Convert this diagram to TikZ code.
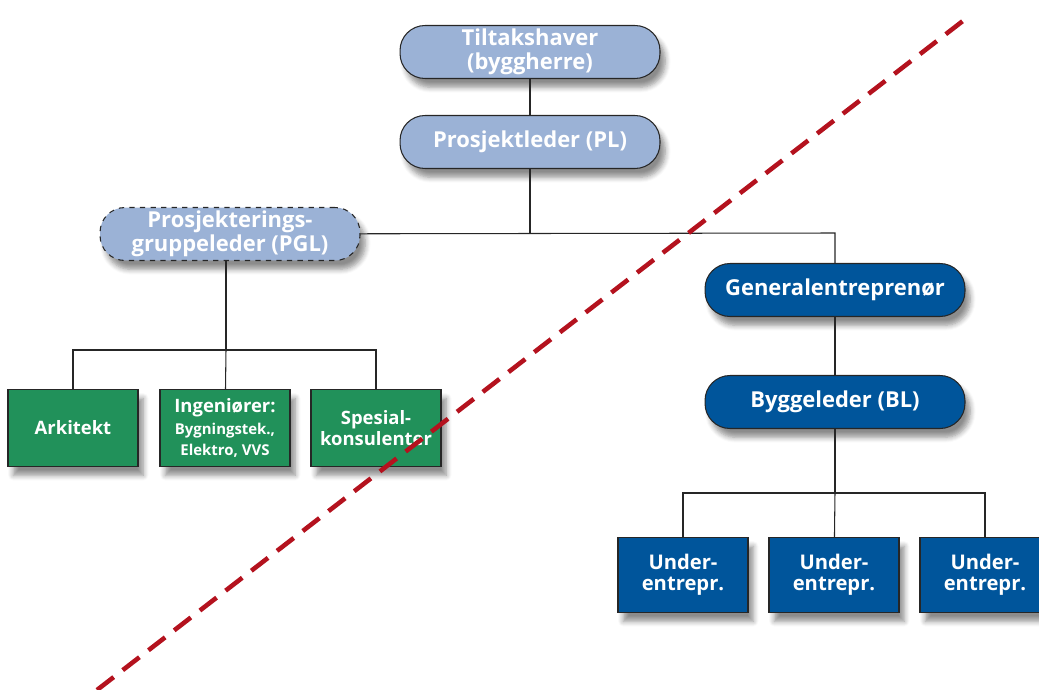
\documentclass[tikz,border=0pt]{standalone}
\usepackage{fontspec}
\setmainfont{Open Sans}
\usetikzlibrary{shadows.blur}

\definecolor{lysblaa}{RGB}{155,178,214}
\definecolor{moerkblaa}{RGB}{0,85,155}
\definecolor{groenn}{RGB}{33,145,90}
\definecolor{roed}{RGB}{180,18,30}

\tikzset{
  boks/.style={draw=black!85,line width=0.6pt,text=white,align=center,
    font=\bfseries,inner sep=1pt,
    blur shadow={shadow xshift=3pt,shadow yshift=-5pt,shadow blur steps=6,
      shadow blur radius=3pt,shadow opacity=45}},
  leder/.style={boks,rounded corners=0.5cm,minimum width=5.2cm,minimum height=1.06cm,
    font=\bfseries\fontsize{12.5}{13.5}\selectfont},
  fag/.style={boks,fill=groenn,minimum width=2.6cm,minimum height=1.54cm,
    font=\bfseries\fontsize{10.5}{11.5}\selectfont},
  under/.style={boks,fill=moerkblaa,minimum width=2.6cm,minimum height=1.5cm,
    font=\bfseries\fontsize{11.5}{11.8}\selectfont},
  linje/.style={draw=black!85,line width=0.6pt}
}

\begin{document}
\begin{tikzpicture}[x=0.02cm,y=-0.02cm]
  \useasboundingbox (0,0) rectangle (1039,690);
  \begin{scope}
  \clip (0,0) rectangle (1039,690);

  % byggherresiden
  \node[leder,fill=lysblaa] (TH) at (530,52) {Tiltakshaver\\(byggherre)};
  \node[leder,fill=lysblaa] (PL) at (530,142) {Prosjektleder (PL)};
  \node[leder,fill=lysblaa,dashed] (PGL) at (230,234) {Prosjekterings-\\gruppeleder (PGL)};

  % entreprenoersiden
  \node[leder,fill=moerkblaa] (GE) at (835,290) {Generalentreprenør};
  \node[leder,fill=moerkblaa] (BL) at (835,402) {Byggeleder (BL)};

  % prosjekteringsgruppen
  \node[fag] (A) at (73,428) {Arkitekt};
  \node[fag] (I) at (225,428) {Ingeniører:\\[1pt]{\fontsize{8.5}{9.5}\selectfont Bygningstek.,}\\{\fontsize{8.5}{9.5}\selectfont Elektro, VVS}};
  \node[fag] (S) at (376,428) {Spesial-\\konsulenter};

  % underentreprenoerer
  \node[under] (U1) at (683,575) {Under-\\entrepr.};
  \node[under] (U2) at (834,575) {Under-\\entrepr.};
  \node[under] (U3) at (985,575) {Under-\\entrepr.};

  \coordinate (K1) at (530,233);
  \coordinate (K2) at (835,233);
  \coordinate (K3) at (226,350);
  \coordinate (K4) at (835,493);

  \draw[linje] (TH) -- (PL);
  \draw[linje] (PL) -- (K1);
  \draw[linje] (PGL) -- (K2) -- (GE);
  \draw[linje] (GE) -- (BL);
  \draw[linje] (PGL.south -| K3) -- (K3);
  \draw[linje] (A) |- (K3) -| (S);
  \draw[linje] (K3) -- (I);
  \draw[linje] (BL) -- (K4);
  \draw[linje] (U1) |- (K4) -| (U3);
  \draw[linje] (K4) -- (U2);

  % skillelinje
  \coordinate (R1) at (97,690);
  \coordinate (R2) at (968,17);
  \draw[roed,line width=2.6pt,dash pattern=on 12pt off 6.5pt] (R1) -- (R2);
  \end{scope}
\end{tikzpicture}
\end{document}
